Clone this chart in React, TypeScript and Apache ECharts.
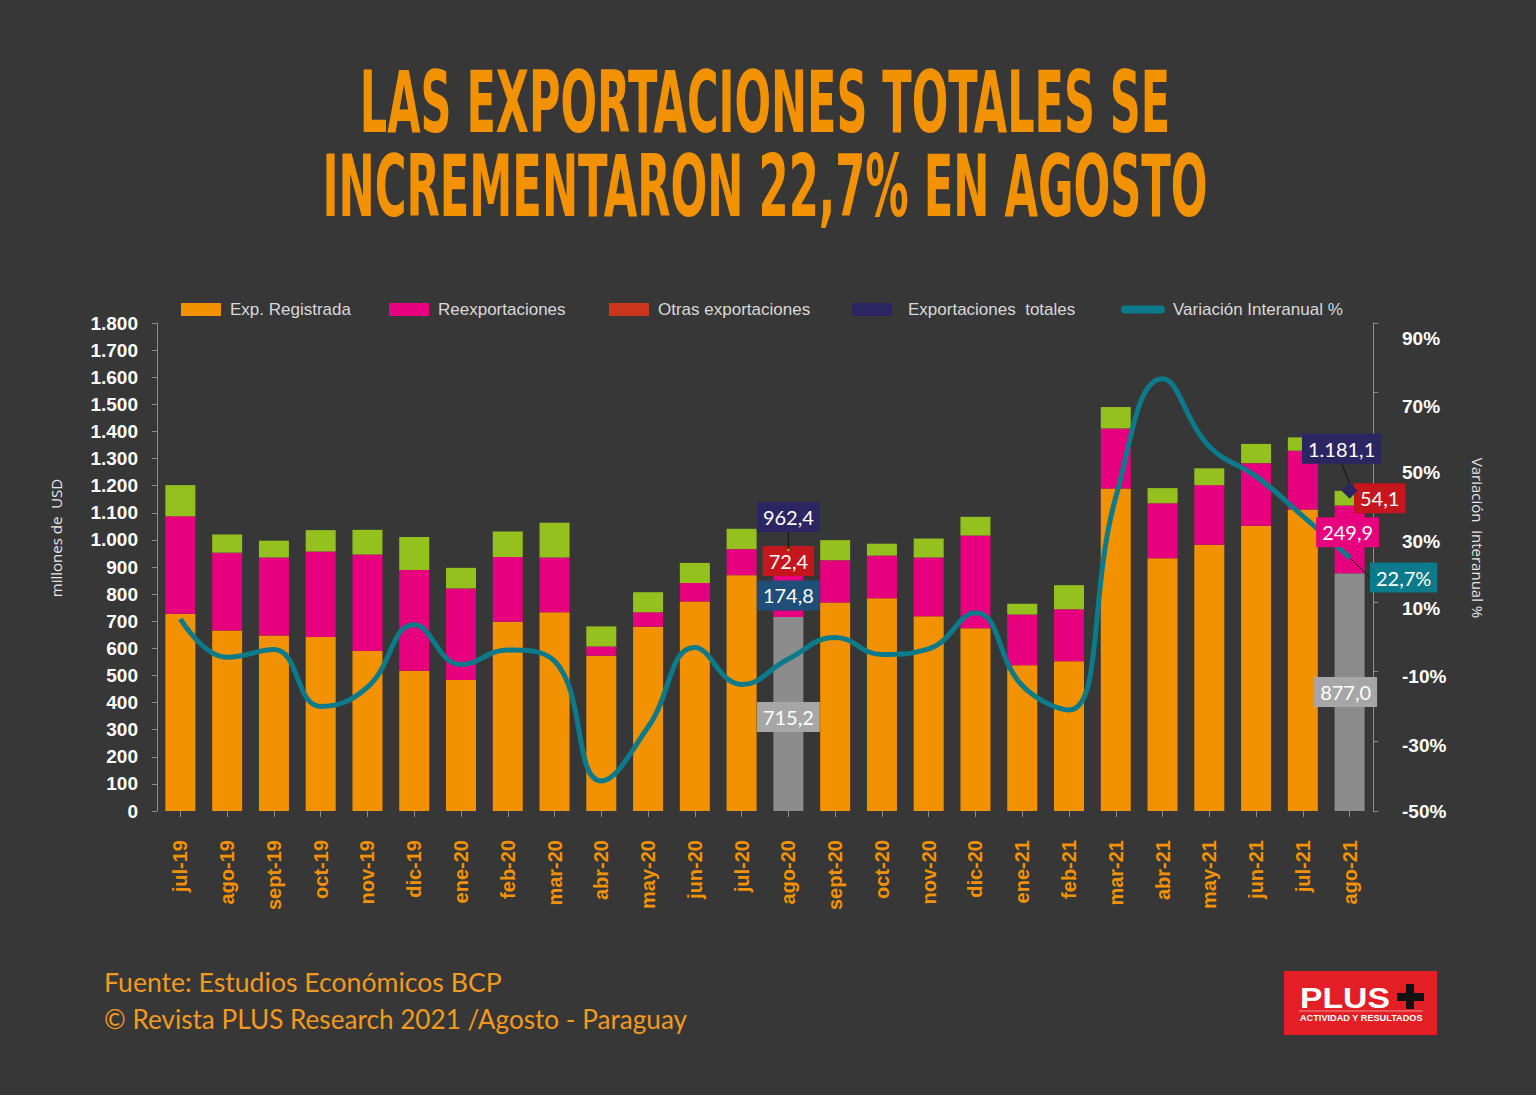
import React, { useEffect, useRef } from 'react';
import * as echarts from 'echarts';

const categories = [
  'jul-19', 'ago-19', 'sept-19', 'oct-19', 'nov-19', 'dic-19', 'ene-20', 'feb-20', 'mar-20',
  'abr-20', 'may-20', 'jun-20', 'jul-20', 'ago-20', 'sept-20', 'oct-20', 'nov-20', 'dic-20',
  'ene-21', 'feb-21', 'mar-21', 'abr-21', 'may-21', 'jun-21', 'jul-21', 'ago-21',
];

const expRegistrada = [
  728, 666, 647, 642, 590, 517, 483, 698, 733, 573, 680, 773, 870, 715.2,
  769, 785, 718, 674, 538, 552, 1190, 932, 982, 1052, 1112, 877.0,
];

const reexportaciones = [
  359, 287, 288, 315, 356, 372, 338, 239, 202, 34, 53, 68, 96, 174.8,
  156, 157, 217, 342, 187, 192, 221, 203, 220, 231, 217, 249.9,
];

const otrasExportaciones = [
  115, 67, 62, 79, 91, 122, 76, 94, 128, 74, 74, 74, 75, 72.4,
  74, 44, 70, 69, 39, 89, 79, 56, 62, 71, 49, 54.1,
];

const exportacionesTotales = [
  null, null, null, null, null, null, null, null, null, null, null, null, null, 962.4,
  null, null, null, null, null, null, null, null, null, null, null, 1181.1,
];

const variacionInteranual = [
  5.1, -5.9, -3.7, -20, -14.5, 3.4, -8, -3.8, -7, -41.4, -25.9, -3.1, -13.7, -6.4,
  -0.2, -5.1, -3.5, 6.9, -14, -21, 40, 74, 54.6, 46, 34.6, 22.7,
];

const leftTicks = { min: 0, max: 1800, interval: 100 };
const rightTicks = { min: -50, max: 90, interval: 20 };

const ORANGE = '#f39200';
const PINK = '#e6007e';
const GREEN = '#95c11f';
const GRAY = '#8c8c8c';
const NAVY = '#2b2661';
const TEAL = '#0b7b8c';
const RED = '#c4161c';
const BG = '#373737';

const fmt = (v: number, dec = 1) => {
  const s = v.toFixed(dec);
  const [i, d] = s.split('.');
  const ii = i.replace(/\B(?=(\d{3})+(?!\d))/g, '.');
  return d !== undefined ? ii + ',' + d : ii;
};

const labelBox = (bg: string, extra: any = {}) => ({
  show: true,
  color: '#ffffff',
  fontFamily: 'Lato, "Open Sans", sans-serif',
  fontSize: 20,
  lineHeight: 20,
  backgroundColor: bg,
  padding: [5, 6, 5, 6],
  ...extra,
});

// downward shift of the right-axis labels relative to their ticks (as in the source)
const rightLabelShift: Record<string, number> = {
  '90': 15, '70': 14, '50': 10, '30': 9, '10': 7, '-10': 5, '-30': 4, '-50': 0,
};

export default function App() {
  const ref = useRef<HTMLDivElement>(null);

  useEffect(() => {
    const el = ref.current!;
    const chart = echarts.init(el, null, { renderer: 'svg' });

    const ctx = document.createElement('canvas').getContext('2d')!;
    const measure = (text: string, font: string) => {
      ctx.font = font;
      return ctx.measureText(text).width || 1;
    };

    const titleFamily = '"Liberation Sans Narrow", "DejaVu Sans Condensed", "Liberation Sans", sans-serif';
    const t1 = 'LAS EXPORTACIONES TOTALES SE';
    const t2 = 'INCREMENTARON 22,7% EN AGOSTO';
    const sx1 = 810 / measure(t1, `bold 86px ${titleFamily}`);
    const sx2 = 886 / measure(t2, `bold 86px ${titleFamily}`);

    const footFamily = 'Lato, "Open Sans", sans-serif';
    const f1 = 'Fuente: Estudios Económicos BCP';
    const f2 = '© Revista PLUS Research 2021 /Agosto - Paraguay';
    const fs1 = 398 / measure(f1, `27px ${footFamily}`);
    const fs2 = 583 / measure(f2, `27px ${footFamily}`);

    const logoFamily = '"Liberation Sans", Arial, sans-serif';
    const plusScale = 90 / measure('PLUS', `900 30px ${logoFamily}`);
    const subScale = 123 / measure('ACTIVIDAD Y RESULTADOS', `bold 9px ${logoFamily}`);

    const txt = (text: string, x: number, y: number, o: any = {}) => ({
      type: 'text',
      x,
      y,
      scaleX: o.scaleX ?? 1,
      rotation: o.rotation ?? 0,
      silent: true,
      style: {
        text,
        fill: o.fill ?? '#fff',
        fontSize: o.fontSize ?? 16,
        fontWeight: o.fontWeight ?? 'normal',
        fontFamily: o.fontFamily ?? footFamily,
        align: o.align ?? 'left',
        verticalAlign: 'middle',
        textAlign: o.align ?? 'left',
        textVerticalAlign: 'middle',
      },
    });

    const axisFont = { color: '#ffffff', fontWeight: 'bold', fontSize: 19, fontFamily: '"Liberation Sans", Arial, sans-serif' };
    const rightRich: any = {};
    Object.keys(rightLabelShift).forEach((k) => {
      const off = rightLabelShift[k];
      rightRich['s' + (Number(k) + 50)] = { ...axisFont, padding: [off * 2, 0, 0, 0] };
    });

    const last = variacionInteranual.length - 1;

    const orangeData = expRegistrada.map((v, i) => {
      if (i === 13) return { value: v, itemStyle: { color: GRAY }, label: labelBox('#a6a6a6', { position: 'inside', offset: [0, 3], formatter: () => fmt(v) }) };
      if (i === 25) return { value: v, itemStyle: { color: GRAY }, label: labelBox('#a6a6a6', { position: 'inside', offset: [-4, 0], formatter: () => fmt(v) }) };
      return v;
    });
    const pinkData = reexportaciones.map((v, i) => {
      if (i === 13) return { value: v, label: labelBox('#1f4e79', { position: 'inside', offset: [0, 2], formatter: () => fmt(v) }) };
      return v;
    });
    const greenData = otrasExportaciones.map((v, i) => {
      if (i === 13) return { value: v, label: labelBox(RED, { position: 'inside', offset: [0, 1], formatter: () => fmt(v) }) };
      if (i === 25) return { value: v, label: labelBox(RED, { position: 'inside', offset: [30, 0], formatter: () => fmt(v) }) };
      return v;
    });
    // label of the last re-export segment, drawn above the line
    const pinkLabelData = reexportaciones.map((v, i) => {
      if (i !== last) return null;
      return {
        value: expRegistrada[i] + v / 2,
        label: labelBox(PINK, { position: 'inside', offset: [-2, -7], formatter: () => fmt(v) }),
      };
    });
    const totData = exportacionesTotales.map((v, i) => {
      if (v === null) return null;
      return {
        value: v,
        symbolSize: i === 13 ? 3 : 16,
        itemStyle: { color: i === 13 ? GREEN : NAVY, opacity: 1 },
        label: labelBox(NAVY, { position: 'inside', formatter: () => fmt(v as number) }),
      };
    });
    const lineData = variacionInteranual.map((v, i) => {
      if (i === last) {
        return { value: v, label: labelBox(TEAL, { position: 'inside', formatter: () => fmt(v) + '%' }) };
      }
      return v;
    });

    const legendBase = {
      top: 296,
      itemWidth: 40,
      itemHeight: 13,
      textStyle: { color: '#d9d9d9', fontSize: 17, fontFamily: '"Liberation Sans", Arial, sans-serif', padding: [0, 0, 0, 4] },
      selectedMode: false,
    };

    const option: any = {
      animation: false,
      backgroundColor: BG,
      legend: [
        { ...legendBase, left: 176, icon: 'rect', data: ['Exp. Registrada'] },
        { ...legendBase, left: 384, icon: 'rect', data: ['Reexportaciones'] },
        { ...legendBase, left: 604, icon: 'rect', data: [{ name: 'Otras exportaciones', itemStyle: { color: '#c9361b' } }] },
        { ...legendBase, left: 847, icon: 'rect', data: [{ name: 'Exportaciones  totales', itemStyle: { color: NAVY } }], textStyle: { ...legendBase.textStyle, padding: [0, 0, 0, 11] } },
        {
          ...legendBase, left: 1116, itemWidth: 44, itemHeight: 8,
          icon: 'path://M4,0 L40,0 A4,4 0 0 1 40,8 L4,8 A4,4 0 0 1 4,0 Z',
          data: [{ name: 'Variación Interanual %', itemStyle: { color: TEAL } }],
          textStyle: { ...legendBase.textStyle, padding: [0, 0, 0, 3] },
        },
      ],
      grid: { left: 157, right: 163, top: 323, bottom: 284 },
      xAxis: {
        type: 'category',
        data: categories,
        offset: 11,
        axisLine: { show: false },
        axisTick: { show: true, alignWithLabel: true, length: 6, lineStyle: { color: '#8c8c8c' } },
        axisLabel: {
          rotate: 90, interval: 0, margin: 18, color: ORANGE, fontWeight: 'bold', fontSize: 20,
          fontFamily: '"Liberation Sans", Arial, sans-serif',
        },
      },
      yAxis: [
        {
          type: 'value', ...leftTicks,
          axisLine: { show: true, lineStyle: { color: '#8c8c8c' } },
          axisTick: { show: true, length: 5, lineStyle: { color: '#8c8c8c' } },
          splitLine: { show: false },
          axisLabel: { ...axisFont, margin: 19, formatter: (v: number) => fmt(v, 0) },
        },
        {
          type: 'value', ...rightTicks, position: 'right',
          axisLine: { show: true, lineStyle: { color: '#8c8c8c' } },
          axisTick: { show: true, length: 5, lineStyle: { color: '#8c8c8c' } },
          splitLine: { show: false },
          axisLabel: {
            ...axisFont, margin: 29,
            formatter: (v: number) => `{s${v + 50}|${v}%}`,
            rich: rightRich,
          },
        },
      ],
      series: [
        { name: 'Exp. Registrada', type: 'bar', stack: 'total', barWidth: 30, itemStyle: { color: ORANGE }, data: orangeData },
        { name: 'Reexportaciones', type: 'bar', stack: 'total', barWidth: 30, itemStyle: { color: PINK }, data: pinkData },
        { name: 'Otras exportaciones', type: 'bar', stack: 'total', barWidth: 30, itemStyle: { color: GREEN }, data: greenData },
        {
          name: 'Variación Interanual %', type: 'line', yAxisIndex: 1, smooth: 0.45,
          symbol: 'circle', showSymbol: true, showAllSymbol: true,
          symbolSize: (_v: any, p: any) => (p.dataIndex === last ? 2 : 0),
          lineStyle: { color: TEAL, width: 5 }, itemStyle: { color: TEAL },
          data: lineData,
          labelLine: { show: true, lineStyle: { color: '#111', width: 1 } },
          labelLayout: () => ({ dx: 54, dy: 20 }),
        },
        {
          name: 'reexp-etiqueta', type: 'scatter', z: 5, silent: true, symbol: 'circle', symbolSize: 1,
          itemStyle: { color: PINK, opacity: 1 },
          data: pinkLabelData,
        },
        {
          name: 'Exportaciones  totales', type: 'scatter', symbol: 'diamond', z: 6,
          itemStyle: { color: NAVY, opacity: 1 },
          data: totData,
          labelLine: { show: true, lineStyle: { color: '#111', width: 1 } },
          labelLayout: (p: any) => (p.dataIndex === 13 ? { dy: -33 } : { dx: -8, dy: -42 }),
        },
      ],
      graphic: [
        txt(t1, 765, 102, { scaleX: sx1, fontSize: 86, fontWeight: 'bold', fontFamily: titleFamily, fill: ORANGE, align: 'center' }),
        txt(t2, 765, 186, { scaleX: sx2, fontSize: 86, fontWeight: 'bold', fontFamily: titleFamily, fill: ORANGE, align: 'center' }),
        txt('millones de  USD', 56, 538, { rotation: Math.PI / 2, fontSize: 15, fill: '#e6e6e6', fontFamily: '"Open Sans", sans-serif', align: 'center' }),
        txt('Variación  interanual %', 1478, 538, { rotation: -Math.PI / 2, fontSize: 15, fill: '#e6e6e6', fontFamily: '"Open Sans", sans-serif', align: 'center' }),
        txt(f1, 104, 982, { scaleX: fs1, fontSize: 27, fill: '#f29a1f', fontFamily: footFamily }),
        txt(f2, 104, 1019, { scaleX: fs2, fontSize: 27, fill: '#f29a1f', fontFamily: footFamily }),
        {
          type: 'group',
          silent: true,
          children: [
            { type: 'rect', shape: { x: 1284, y: 971, width: 153, height: 64 }, style: { fill: '#e31e24' } },
            txt('PLUS', 1300, 998, { scaleX: plusScale, fontSize: 30, fontWeight: 900, fontFamily: logoFamily, fill: '#ffffff' }),
            { type: 'rect', shape: { x: 1397, y: 993, width: 27, height: 8 }, style: { fill: '#111111' } },
            { type: 'rect', shape: { x: 1406, y: 984, width: 8, height: 25 }, style: { fill: '#111111' } },
            { type: 'line', shape: { x1: 1299, y1: 1011, x2: 1423, y2: 1011 }, style: { stroke: 'rgba(255,255,255,0.55)', lineWidth: 1 } },
            txt('ACTIVIDAD Y RESULTADOS', 1300, 1018.5, { scaleX: subScale, fontSize: 9, fontWeight: 'bold', fontFamily: logoFamily, fill: '#ffffff' }),
          ],
        },
      ],
    };

    chart.setOption(option);
    return () => chart.dispose();
  }, []);

  return (
    <div
      ref={ref}
      style={{ position: 'fixed', left: 0, top: 0, width: 1536, height: 1095, background: BG }}
    />
  );
}
